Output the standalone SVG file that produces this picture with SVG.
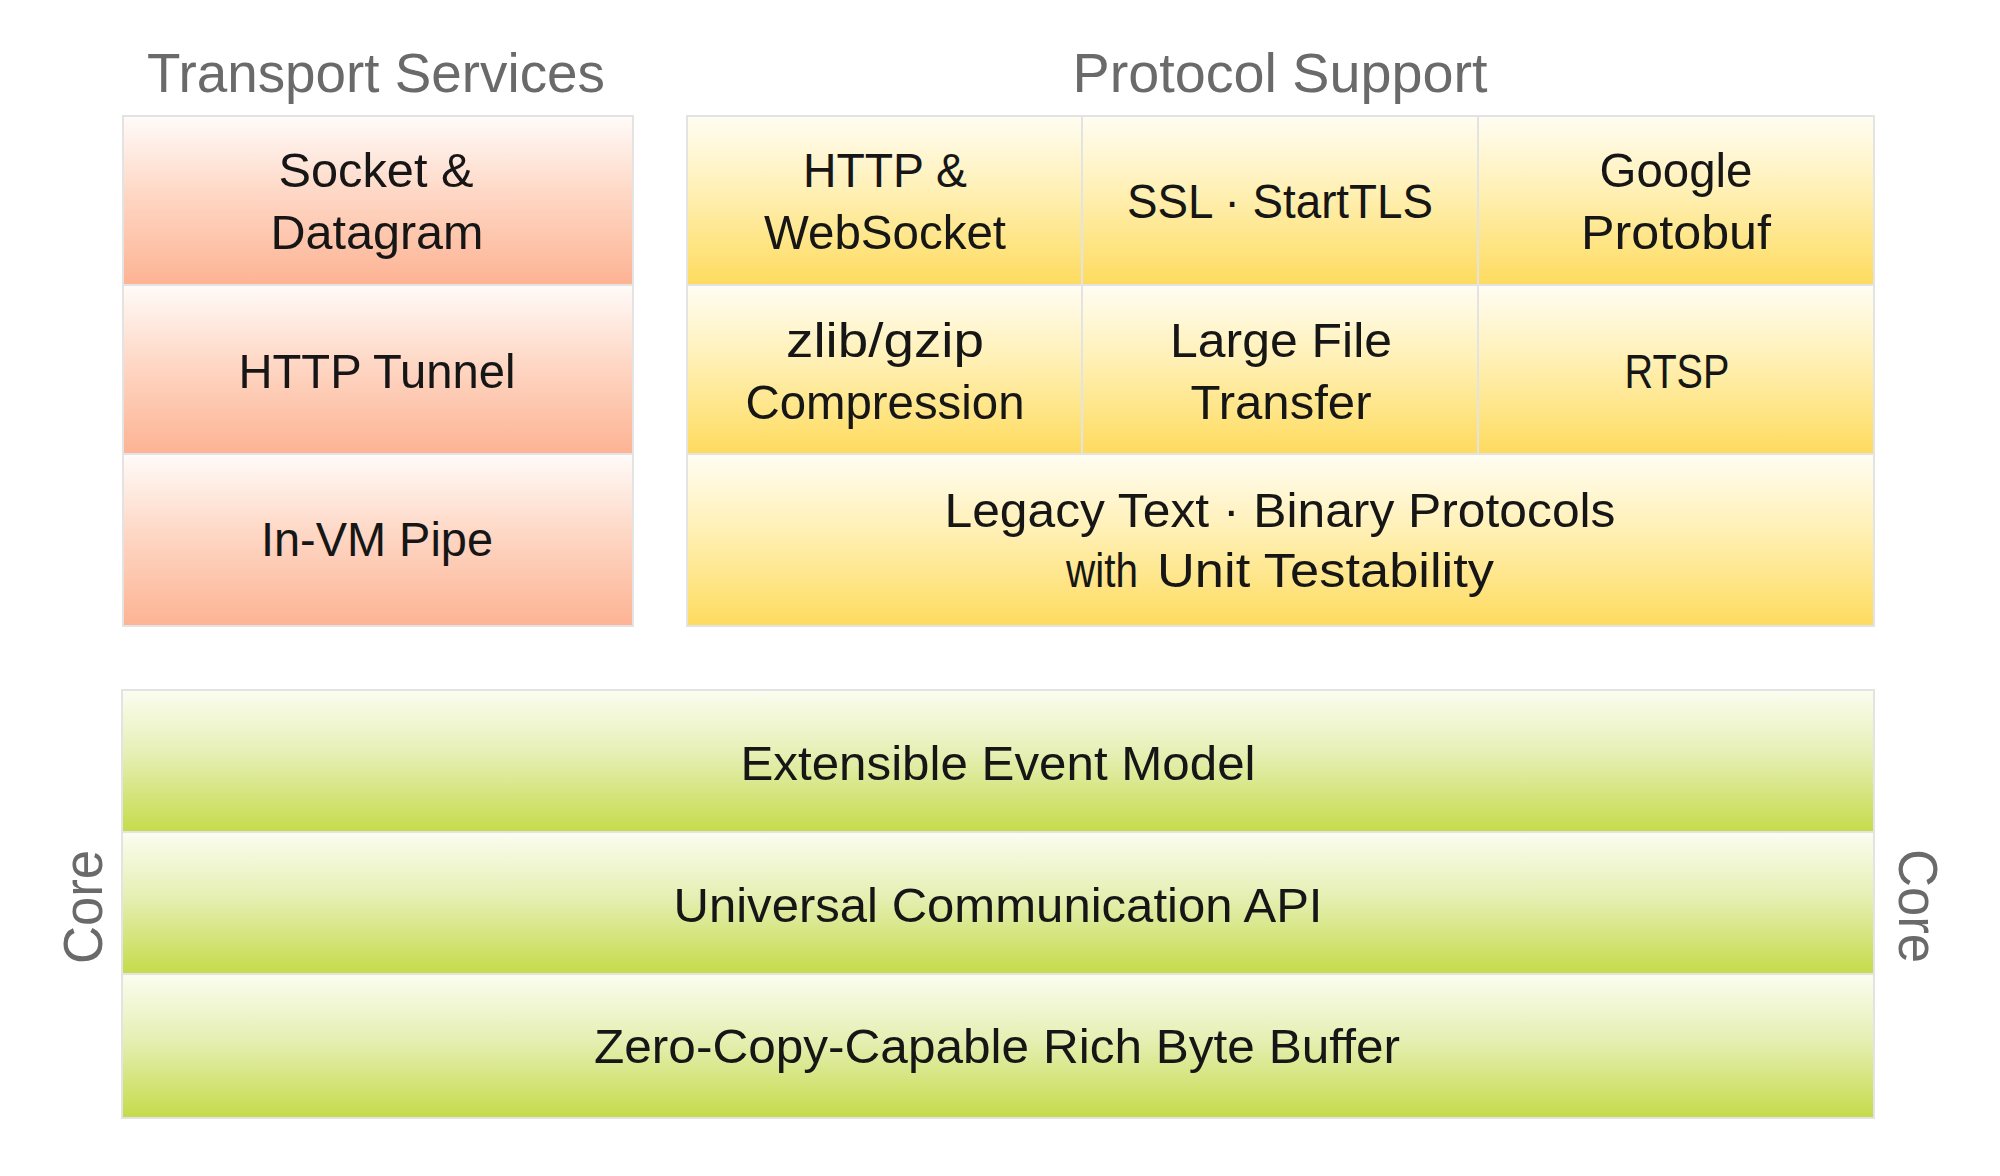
<svg xmlns="http://www.w3.org/2000/svg" width="2000" height="1176" viewBox="0 0 2000 1176">
<style>
.cell{stroke:#e3e3e3;stroke-width:2}
.t{stroke:#e0e0e0;}
.orange{fill:url(#gOrange)}
.yellow{fill:url(#gYellow)}
.green{fill:url(#gGreen)}
.lbl{font-family:"Liberation Sans",Arial,sans-serif;font-size:49px;fill:#161616;text-anchor:middle}
.hdr{font-family:"Liberation Sans",Arial,sans-serif;font-size:56px;fill:#6a6a6a;text-anchor:middle}
.st{text-anchor:start}
</style>
<defs>
<linearGradient id="gOrange" x1="0" y1="0" x2="0" y2="1">
<stop offset="0" stop-color="#fffbf9"/>
<stop offset="0.45" stop-color="#fed8c6"/>
<stop offset="1" stop-color="#fdb393"/>
</linearGradient>
<linearGradient id="gYellow" x1="0" y1="0" x2="0" y2="1">
<stop offset="0" stop-color="#fffdf3"/>
<stop offset="0.45" stop-color="#fff0b4"/>
<stop offset="1" stop-color="#fedb5e"/>
</linearGradient>
<linearGradient id="gGreen" x1="0" y1="0" x2="0" y2="1">
<stop offset="0" stop-color="#fbfdf0"/>
<stop offset="0.45" stop-color="#e6efb4"/>
<stop offset="1" stop-color="#c5db4a"/>
</linearGradient>
</defs>
<rect width="2000" height="1176" fill="#ffffff"/>

<g id="headers">
<text class="hdr" x="376" y="92" textLength="458" lengthAdjust="spacingAndGlyphs">Transport Services</text>
<text class="hdr" x="1280" y="92" textLength="415" lengthAdjust="spacingAndGlyphs">Protocol Support</text>
<text class="hdr" transform="translate(102,907) rotate(-90)" x="0" y="0" textLength="114" lengthAdjust="spacingAndGlyphs">Core</text>
<text class="hdr" transform="translate(1899,906) rotate(90)" x="0" y="0" textLength="114" lengthAdjust="spacingAndGlyphs">Core</text>
</g>

<g id="transport">
<g id="socket-datagram">
<rect class="cell orange" x="123" y="116" width="510" height="169"/>
<text class="lbl" x="376" y="187" textLength="195" lengthAdjust="spacingAndGlyphs">Socket &amp;</text>
<text class="lbl" x="377" y="249" textLength="213" lengthAdjust="spacingAndGlyphs">Datagram</text>
</g>
<g id="http-tunnel">
<rect class="cell orange" x="123" y="285" width="510" height="169"/>
<text class="lbl" x="377" y="388" textLength="277" lengthAdjust="spacingAndGlyphs">HTTP Tunnel</text>
</g>
<g id="in-vm-pipe">
<rect class="cell orange" x="123" y="454" width="510" height="172"/>
<text class="lbl" x="377" y="556" textLength="232" lengthAdjust="spacingAndGlyphs">In-VM Pipe</text>
</g>
</g>

<g id="protocol">
<g id="http-websocket">
<rect class="cell yellow" x="687" y="116" width="395" height="169"/>
<text class="lbl" x="885" y="187" textLength="164" lengthAdjust="spacingAndGlyphs">HTTP &amp;</text>
<text class="lbl" x="885" y="249" textLength="242" lengthAdjust="spacingAndGlyphs">WebSocket</text>
</g>
<g id="ssl-starttls">
<rect class="cell yellow" x="1082" y="116" width="396" height="169"/>
<text class="lbl" x="1280" y="218" textLength="306" lengthAdjust="spacingAndGlyphs">SSL · StartTLS</text>
</g>
<g id="google-protobuf">
<rect class="cell yellow" x="1478" y="116" width="396" height="169"/>
<text class="lbl" x="1676" y="187" textLength="153" lengthAdjust="spacingAndGlyphs">Google</text>
<text class="lbl" x="1676" y="249" textLength="190" lengthAdjust="spacingAndGlyphs">Protobuf</text>
</g>
<g id="zlib-gzip">
<rect class="cell yellow" x="687" y="285" width="395" height="169"/>
<text class="lbl" x="885" y="357" textLength="198" lengthAdjust="spacingAndGlyphs">zlib/gzip</text>
<text class="lbl" x="885" y="419" textLength="279" lengthAdjust="spacingAndGlyphs">Compression</text>
</g>
<g id="large-file">
<rect class="cell yellow" x="1082" y="285" width="396" height="169"/>
<text class="lbl" x="1281" y="357" textLength="222" lengthAdjust="spacingAndGlyphs">Large File</text>
<text class="lbl" x="1281" y="419" textLength="181" lengthAdjust="spacingAndGlyphs">Transfer</text>
</g>
<g id="rtsp">
<rect class="cell yellow" x="1478" y="285" width="396" height="169"/>
<text class="lbl" x="1677" y="388" textLength="105" lengthAdjust="spacingAndGlyphs">RTSP</text>
</g>
<g id="legacy">
<rect class="cell yellow" x="687" y="454" width="1187" height="172"/>
<text class="lbl" x="1280" y="527" textLength="671" lengthAdjust="spacingAndGlyphs">Legacy Text · Binary Protocols</text>
<text class="lbl st" x="1066" y="587" font-size="33" textLength="72" lengthAdjust="spacingAndGlyphs">with</text>
<text class="lbl st" x="1157" y="587" textLength="337" lengthAdjust="spacingAndGlyphs">Unit Testability</text>
</g>
</g>

<g id="core">
<g id="event-model">
<rect class="cell green" x="122" y="690" width="1752" height="142"/>
<text class="lbl" x="998" y="780" textLength="515" lengthAdjust="spacingAndGlyphs">Extensible Event Model</text>
</g>
<g id="comm-api">
<rect class="cell green" x="122" y="832" width="1752" height="142"/>
<text class="lbl" x="998" y="922" textLength="649" lengthAdjust="spacingAndGlyphs">Universal Communication API</text>
</g>
<g id="byte-buffer">
<rect class="cell green" x="122" y="974" width="1752" height="144"/>
<text class="lbl" x="997" y="1063" textLength="806" lengthAdjust="spacingAndGlyphs">Zero-Copy-Capable Rich Byte Buffer</text>
</g>
</g>

<g id="connectors"></g>
</svg>
